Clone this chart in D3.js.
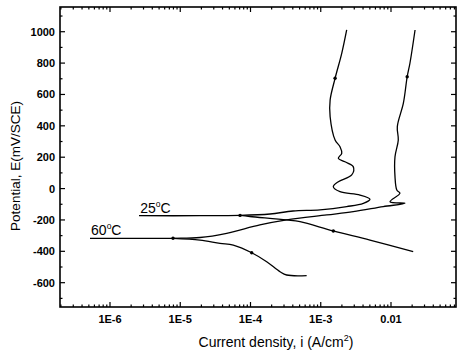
<!DOCTYPE html>
<html><head><meta charset="utf-8">
<script src="https://cdn.jsdelivr.net/npm/d3@7"></script>
<style>body{margin:0;background:#fff}svg{display:block}text{font-family:"Liberation Sans",Arial,sans-serif;fill:#000}</style>
</head><body>
<svg id="c" width="457" height="360"></svg>
<script>
// Current density (A/cm2) and potential (mV/SCE)
const c25_anodic_i = [2.59e-6,1.91e-5,7.1e-5,1.9e-4,4.03e-4,9.75e-4,2.34e-3,4.04e-3,5.02e-3,3.62e-3,1.88e-3,1.51e-3,1.78e-3,2.76e-3,2.9e-3,2.21e-3,1.78e-3,1.99e-3,1.88e-3,1.6e-3,1.36e-3,1.36e-3,1.6e-3,1.99e-3,2.34e-3];
const c25_anodic_E = [-173,-173,-171,-162,-143,-136,-115,-94,-68,-41,-20,12,44,87,140,171,193,225,267,310,458,565,703,862,1011];
const c25_cathodic_i = [7.1e-5,9.8e-5,3.27e-4,5.07e-4,1.51e-3,5.02e-3,2.07e-2];
const c25_cathodic_E = [-171,-178,-200,-211,-270,-328,-402];
const c60_anodic_i = [5.19e-7,7.89e-6,1.91e-5,4.58e-5,1.36e-4,3.27e-4,1.22e-3,2.9e-3,7.76e-3,1.58e-2,9.68e-3,1.34e-2,1.21e-2,1.14e-2,1.14e-2,1.27e-2,1.23e-2,1.5e-2,1.7e-2,1.86e-2,2.2e-2];
const c60_anodic_E = [-317,-317,-312,-285,-232,-200,-168,-147,-115,-94,-84,-30,-9,76,203,310,395,544,713,799,1011];
const c60_cathodic_i = [7.89e-6,1.91e-5,3.68e-5,5.69e-5,1.04e-4,1.70e-4,2.63e-4,3.27e-4,6.3e-4];
const c60_cathodic_E = [-317,-328,-349,-360,-409,-466,-530,-551,-555];
const marker_i = [7.1e-5,1.6e-3,1.51e-3,7.89e-6,1.7e-2,1.04e-4];
const marker_E = [-171,703,-270,-317,713,-409];
const xTickValues = [1e-6,1e-5,1e-4,1e-3,1e-2];
const xTickLabels = ["1E-6","1E-5","1E-4","1E-3","0.01"];
const yTickValues = [-600,-400,-200,0,200,400,600,800,1000];
const seriesLabels = ["25", "60"];
const seriesLabelAt_i = [2.6e-6, 5.2e-7];
const seriesLabelAt_E = [-173, -317];

const svg = d3.select("#c");
const L=60, R=456, T=7, B=307;
const x = d3.scaleLog().domain([1.942e-7, 0.0842]).range([L,R]);
const y = d3.scaleLinear().domain([-755, 1157.6]).range([B,T]);

const line = d3.line().x(d=>x(d[0])).y(d=>y(d[1])).curve(d3.curveCatmullRom.alpha(0.5));
const zip=(a,b)=>a.map((v,i)=>[v,b[i]]);
[[c25_anodic_i,c25_anodic_E],[c25_cathodic_i,c25_cathodic_E],[c60_anodic_i,c60_anodic_E],[c60_cathodic_i,c60_cathodic_E]].forEach(([a,b])=>{
  svg.append("path").attr("d",line(zip(a,b))).attr("fill","none").attr("stroke","#000").attr("stroke-width",1.3);
});
svg.selectAll("circle.m").data(zip(marker_i,marker_E)).enter().append("circle")
  .attr("cx",d=>x(d[0])).attr("cy",d=>y(d[1])).attr("r",1.7).attr("fill","#000");

// axes (ticks inward)
const minorX = [];
for(let e=-7;e<=-2;e++) for(let k=1;k<10;k++){const v=k*Math.pow(10,e); if(v>=1.942e-7&&v<=0.0842) minorX.push(v);}
const minorY = d3.range(-700,1101,100);
const g = svg.append("g").attr("stroke","#000").attr("stroke-width",1.2);
minorX.forEach(v=>{
  const major = Math.abs(Math.log10(v)-Math.round(Math.log10(v)))<1e-9;
  const len = major?5:2.5;
  g.append("line").attr("x1",x(v)).attr("x2",x(v)).attr("y1",B).attr("y2",B-len);
  g.append("line").attr("x1",x(v)).attr("x2",x(v)).attr("y1",T).attr("y2",T+len);
});
minorY.forEach(v=>{
  const len = (v%200===0)?5:2.5;
  g.append("line").attr("x1",L).attr("x2",L+len).attr("y1",y(v)).attr("y2",y(v));
  g.append("line").attr("x1",R).attr("x2",R-len).attr("y1",y(v)).attr("y2",y(v));
});
svg.append("rect").attr("x",L).attr("y",T).attr("width",R-L).attr("height",B-T)
  .attr("fill","none").attr("stroke","#000").attr("stroke-width",1.6);

svg.selectAll("text.xt").data(xTickValues).enter().append("text")
  .attr("x",d=>x(d)).attr("y",322.5).attr("text-anchor","middle")
  .attr("font-size",11).attr("font-weight","bold").text((d,i)=>xTickLabels[i]);
svg.selectAll("text.yt").data(yTickValues).enter().append("text")
  .attr("x",55).attr("y",d=>y(d)+4).attr("text-anchor","end")
  .attr("font-size",11).attr("font-weight","bold").text(d=>d);

const xt = svg.append("text").attr("x",276).attr("y",347).attr("text-anchor","middle").attr("font-size",14);
xt.append("tspan").text("Current density, i (A/cm");
xt.append("tspan").attr("dy",-6).attr("font-size",9).text("2");
xt.append("tspan").attr("dy",6).text(")");

svg.append("text").attr("transform","translate(20,166) rotate(-90)").attr("text-anchor","middle")
  .attr("font-size",13.5).text("Potential,  E(mV/SCE)");

seriesLabels.forEach((s,i)=>{
  const t = svg.append("text").attr("x",x(seriesLabelAt_i[i])+1).attr("y",y(seriesLabelAt_E[i])-3).attr("font-size",14);
  t.append("tspan").text(s);
  t.append("tspan").attr("dy",-6).attr("font-size",8.5).text("o");
  t.append("tspan").attr("dy",6).text("C");
});
</script>
</body></html>
